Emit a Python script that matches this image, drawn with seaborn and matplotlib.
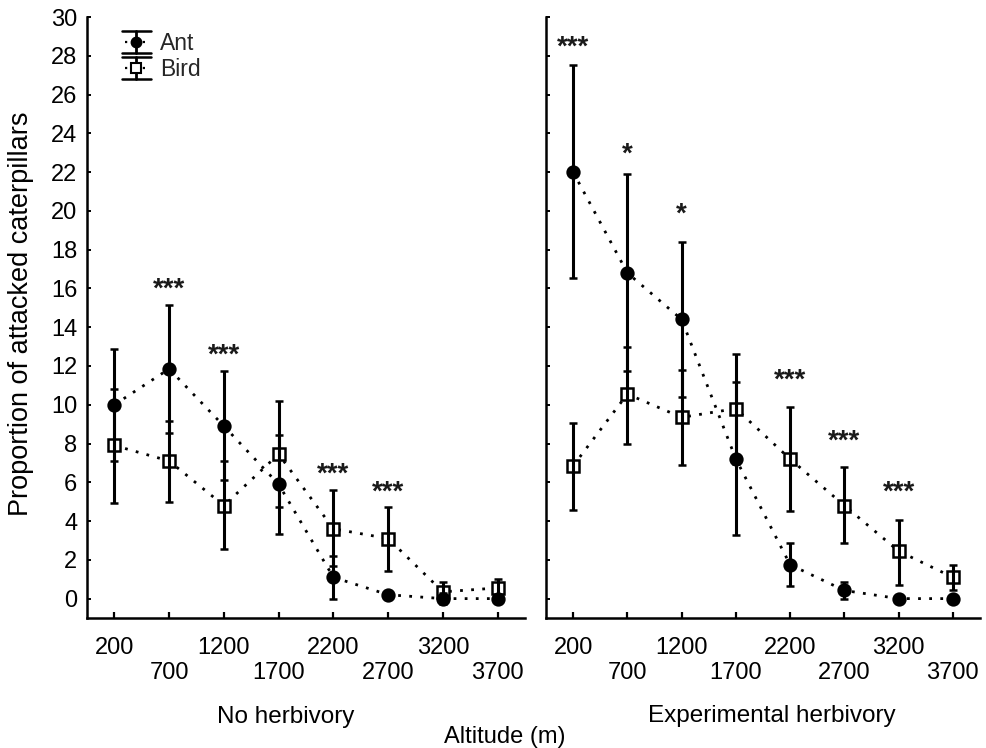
import numpy as np
import pandas as pd
import matplotlib
matplotlib.use("Agg")
import matplotlib.pyplot as plt
import seaborn as sns
from matplotlib.legend_handler import HandlerBase
from matplotlib.lines import Line2D

# ---------------- data ----------------
altitudes = ["200", "700", "1200", "1700", "2200", "2700", "3200", "3700"]

# No herbivory
ant_nh = [10.0, 11.85, 8.9, 5.9, 1.1, 0.2, 0.0, 0.0]
ant_nh_lo = [7.1, 8.55, 6.1, 3.35, 0.0, 0.05, -0.3, -0.1]
ant_nh_hi = [12.9, 15.15, 11.75, 8.45, 2.2, 0.4, 0.3, 0.1]
bird_nh = [7.9, 7.1, 4.8, 7.45, 3.6, 3.1, 0.35, 0.55]
bird_nh_lo = [4.95, 5.0, 2.55, 4.75, 1.7, 1.45, -0.1, 0.1]
bird_nh_hi = [10.8, 9.15, 7.1, 10.2, 5.6, 4.7, 0.85, 1.03]
stars_nh = ["", "***", "***", "", "***", "***", "", ""]
stars_nh_y = [np.nan, 16.45, 13.0, np.nan, 6.9, 5.95, np.nan, np.nan]

# Experimental herbivory
ant_eh = [22.0, 16.8, 14.4, 7.2, 1.75, 0.42, 0.0, 0.0]
ant_eh_lo = [16.55, 11.75, 10.4, 3.3, 0.65, 0.0, -0.1, -0.1]
ant_eh_hi = [27.5, 21.9, 18.4, 11.15, 2.85, 0.85, 0.1, 0.1]
bird_eh = [6.85, 10.55, 9.35, 9.8, 7.2, 4.8, 2.45, 1.1]
bird_eh_lo = [4.55, 8.0, 6.9, 6.95, 4.5, 2.85, 0.7, 0.45]
bird_eh_hi = [9.05, 13.0, 11.8, 12.6, 9.9, 6.8, 4.05, 1.75]
stars_eh = ["***", "*", "*", "", "***", "***", "***", ""]
stars_eh_y = [28.9, 23.4, 20.3, np.nan, 11.75, 8.6, 5.95, np.nan]

series_names = ["Ant", "Bird"]
panel_titles = ["No herbivory", "Experimental herbivory"]
x_label = "Altitude (m)"
y_label = "Proportion of attacked caterpillars"
y_ticks = list(range(0, 31, 2))

# ---------------- style ----------------
sns.set_theme(style="ticks")
plt.rcParams["font.family"] = ["Liberation Sans", "DejaVu Sans"]
plt.rcParams["axes.linewidth"] = 1.8

W, H = 986, 748
fig = plt.figure(figsize=(W / 100, H / 100), dpi=100)
fig.patch.set_facecolor("white")
ax1 = fig.add_axes([87 / W, 1 - 618 / H, 438 / W, 601 / H])
ax2 = fig.add_axes([546 / W, 1 - 618 / H, 434 / W, 601 / H])

DOT = (0, (1, 3))
TICK_FS = 17


def draw_series(ax, vals, lo, hi, marker, mfc, ms, zline):
    pos = np.arange(len(altitudes))
    df = pd.DataFrame({"pos": pos, "value": vals})
    sns.lineplot(data=df, x="pos", y="value", ax=ax, color="black",
                 linewidth=2.0, linestyle=DOT, marker=marker, markersize=ms,
                 markerfacecolor=mfc, markeredgecolor="black",
                 markeredgewidth=1.8, legend=False, errorbar=None, zorder=zline)
    v = np.array(vals)
    yerr = [v - np.array(lo), np.array(hi) - v]
    ax.errorbar(pos, v, yerr=yerr, fmt="none", ecolor="black",
                elinewidth=2.2, capsize=2.8, capthick=1.8, zorder=4)


def panel(ax, ant, ant_lo, ant_hi, bird, bird_lo, bird_hi, stars, star_y, left):
    draw_series(ax, bird, bird_lo, bird_hi, "s", "white", 8, 2)
    draw_series(ax, ant, ant_lo, ant_hi, "o", "black", 8.5, 3)
    for i, (s, yv) in enumerate(zip(stars, star_y)):
        if s:
            ax.text(i, yv - 0.85, s, ha="center", va="baseline",
                    fontsize=20, fontweight="bold", color="#1a1a1a")
    ax.set_xlim(-0.5, len(altitudes) - 0.5)
    ax.set_ylim(-1, 30)
    ax.set_xticks(np.arange(len(altitudes)))
    ax.set_xticklabels([a if i % 2 == 0 else "\n" + a
                        for i, a in enumerate(altitudes)])
    ax.set_yticks(y_ticks)
    ax.set_xlabel("")
    ax.set_ylabel("")
    ax.tick_params(axis="x", direction="in", length=4.5, width=1.6,
                   labelsize=TICK_FS, pad=14, colors="black")
    ax.tick_params(axis="y", direction="in", length=3, width=1.4,
                   labelsize=TICK_FS, pad=7, colors="black",
                   labelleft=left)
    for lab in ax.get_xticklabels():
        lab.set_linespacing(1.15)
    sns.despine(ax=ax)
    for sp in ["left", "bottom"]:
        ax.spines[sp].set_color("black")
        ax.spines[sp].set_linewidth(1.8)
    ax.set_facecolor("white")


panel(ax1, ant_nh, ant_nh_lo, ant_nh_hi, bird_nh, bird_nh_lo, bird_nh_hi,
      stars_nh, stars_nh_y, True)
panel(ax2, ant_eh, ant_eh_lo, ant_eh_hi, bird_eh, bird_eh_lo, bird_eh_hi,
      stars_eh, stars_eh_y, False)


# ---------------- legend ----------------
class ErrHandler(HandlerBase):
    def __init__(self, marker, mfc, ms):
        super().__init__()
        self.marker = marker
        self.mfc = mfc
        self.ms = ms

    def create_artists(self, legend, orig_handle, xdescent, ydescent,
                       width, height, fontsize, trans):
        x0 = -xdescent
        y0 = -ydescent
        xm = x0 + width / 2
        ym = y0 + height / 2
        arts = [
            Line2D([x0 + 2, x0 + width - 2], [ym, ym], color="black",
                   lw=1.6, linestyle=DOT),
            Line2D([xm, xm], [y0, y0 + height], color="black", lw=2.0),
            Line2D([x0, x0 + width], [y0, y0], color="black", lw=1.8),
            Line2D([x0, x0 + width], [y0 + height, y0 + height],
                   color="black", lw=1.8),
            Line2D([xm], [ym], marker=self.marker, markersize=self.ms,
                   markerfacecolor=self.mfc, markeredgecolor="black",
                   markeredgewidth=1.5, linestyle="none"),
        ]
        for a in arts:
            a.set_transform(trans)
        return arts


h_ant = Line2D([], [], color="black")
h_bird = Line2D([], [], color="black", marker="s")
ax1.legend([h_ant, h_bird], series_names,
           handler_map={h_ant: ErrHandler("o", "black", 7),
                        h_bird: ErrHandler("s", "white", 6.5)},
           loc="upper left", bbox_to_anchor=(0.08, 0.977),
           frameon=False, fontsize=16.5, handlelength=1.25,
           handleheight=1.1, handletextpad=0.4, labelspacing=0.12,
           borderpad=0, borderaxespad=0)

# ---------------- texts ----------------
fig.text(21 / W, 1 - 314 / H, y_label, rotation=90, ha="center",
         va="center", fontsize=19.5, color="black")
fig.text(286 / W, 1 - 723 / H, panel_titles[0], ha="center",
         va="baseline", fontsize=17.5, color="black")
fig.text(772 / W, 1 - 722 / H, panel_titles[1], ha="center",
         va="baseline", fontsize=17.5, color="black")
fig.text(505 / W, 1 - 743 / H, x_label, ha="center", va="baseline",
         fontsize=17, color="black")

fig.savefig("out.png", dpi=100, facecolor="white")
